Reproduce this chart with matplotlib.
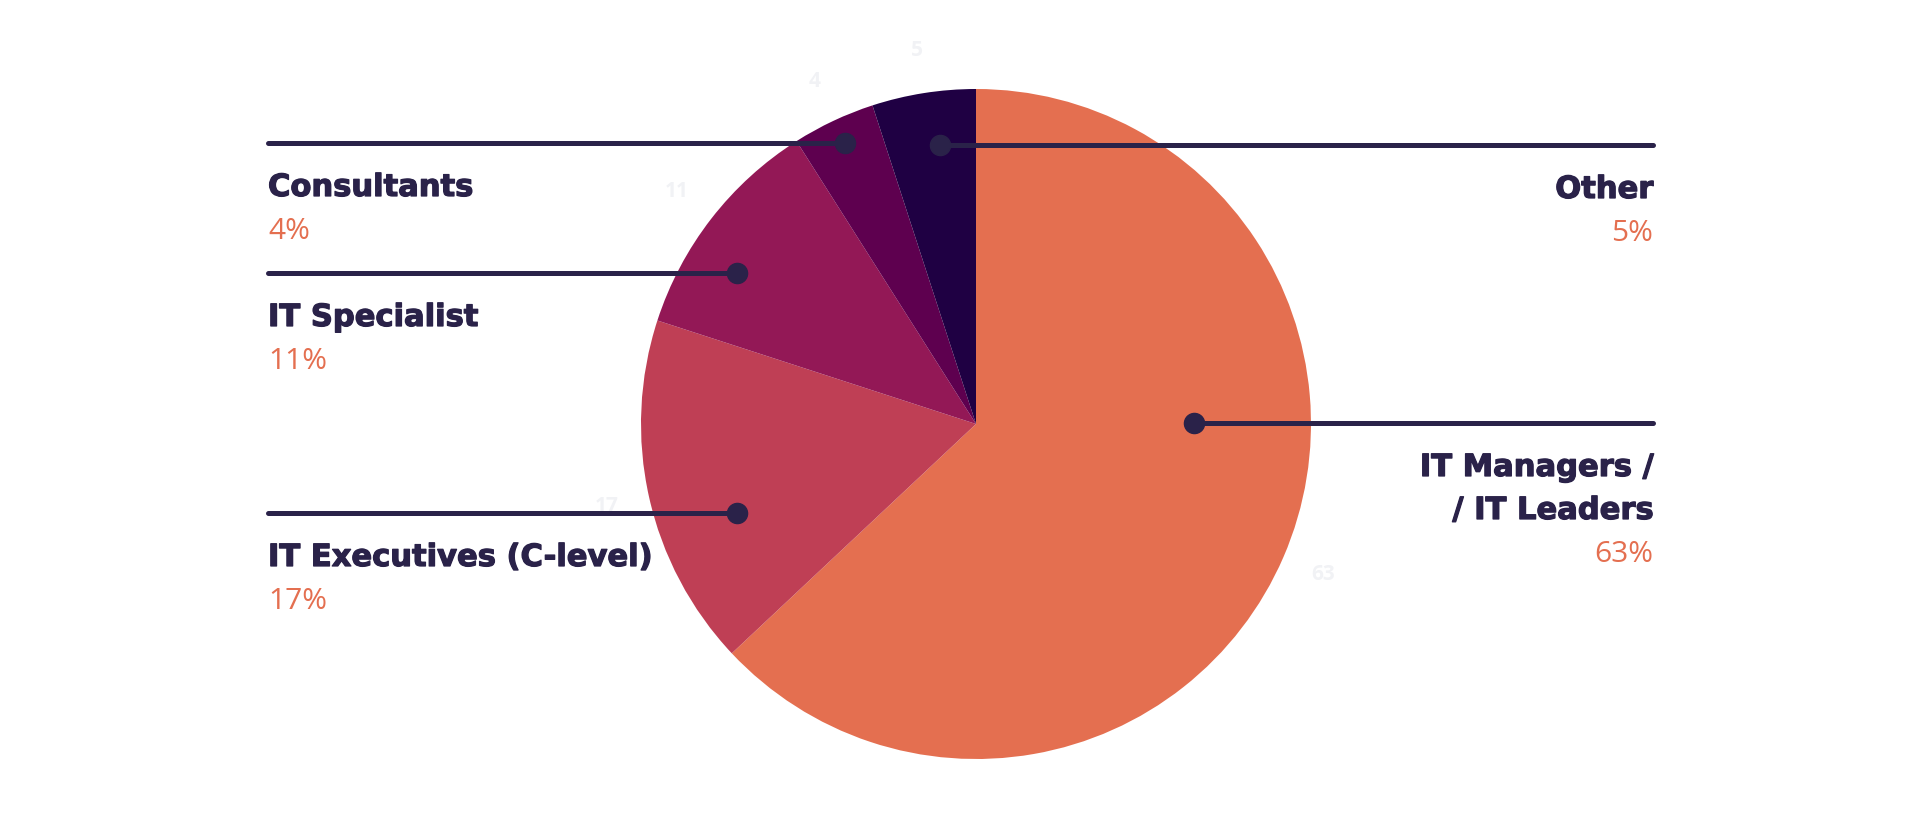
import matplotlib
matplotlib.use("Agg")
import matplotlib.pyplot as plt
import matplotlib.patheffects as pe

# data
categories = ["IT Managers /\n/ IT Leaders", "IT Executives (C-level)", "IT Specialist", "Consultants", "Other"]
values = [63, 17, 11, 4, 5]
pct_labels = ["63%", "17%", "11%", "4%", "5%"]

slice_colors = ["#E46F50", "#BF3F55", "#931856", "#5E004F", "#1F0043"]
navy = "#2A2249"
orange = "#E46F50"

W, H = 1920, 839

fig = plt.figure(figsize=(W / 100, H / 100), dpi=100)
ax = fig.add_axes([0, 0, 1, 1])

def py(y):
    # pixel row from top -> data y
    return H - y

wedges, texts = ax.pie(values, colors=slice_colors, startangle=90, counterclock=False,
                       center=(976, py(424)), radius=335, frame=True,
                       labels=[str(v) for v in values], labeldistance=1.13,
                       textprops=dict(color="#F1F2F5", fontsize=15, fontweight="bold",
                                      family="Open Sans"),
                       wedgeprops=dict(linewidth=0))
for t in texts:
    t.set_ha("center")
ax.set_xlim(0, W)
ax.set_ylim(0, H)
ax.set_aspect("equal")
ax.axis("off")

# leader lines: (line y, x start, x end, dot x, text side)
leaders = {
    "IT Managers /\n/ IT Leaders": (423, 1194, 1653, 1194, "right"),
    "IT Executives (C-level)": (513, 268, 737, 737, "left"),
    "IT Specialist": (273, 268, 737, 737, "left"),
    "Consultants": (143, 268, 845, 845, "left"),
    "Other": (145, 940, 1653, 940, "right"),
}

heavy = [pe.withStroke(linewidth=0.9, foreground=navy)]

for cat, pct in zip(categories, pct_labels):
    ly, x0, x1, dx, side = leaders[cat]
    ax.plot([x0, x1], [py(ly), py(ly)], color=navy, lw=3.6, solid_capstyle="round", zorder=5)
    ax.plot([dx], [py(ly)], "o", color=navy, ms=14.5, zorder=6)
    tx = x0 if side == "left" else x1
    lines = cat.split("\n")
    base = ly + 53
    for i, line in enumerate(lines):
        ax.text(tx, py(base + i * 43), line, ha=side, va="baseline", color=navy,
                fontsize=22, fontweight="bold", family="DejaVu Sans", zorder=7,
                path_effects=heavy)
    ax.text(tx, py(base + (len(lines) - 1) * 43 + 43), pct, ha=side, va="baseline",
            color=orange, fontsize=21.5, family="Open Sans", zorder=7)

fig.savefig("out.png", dpi=100, facecolor="white")
